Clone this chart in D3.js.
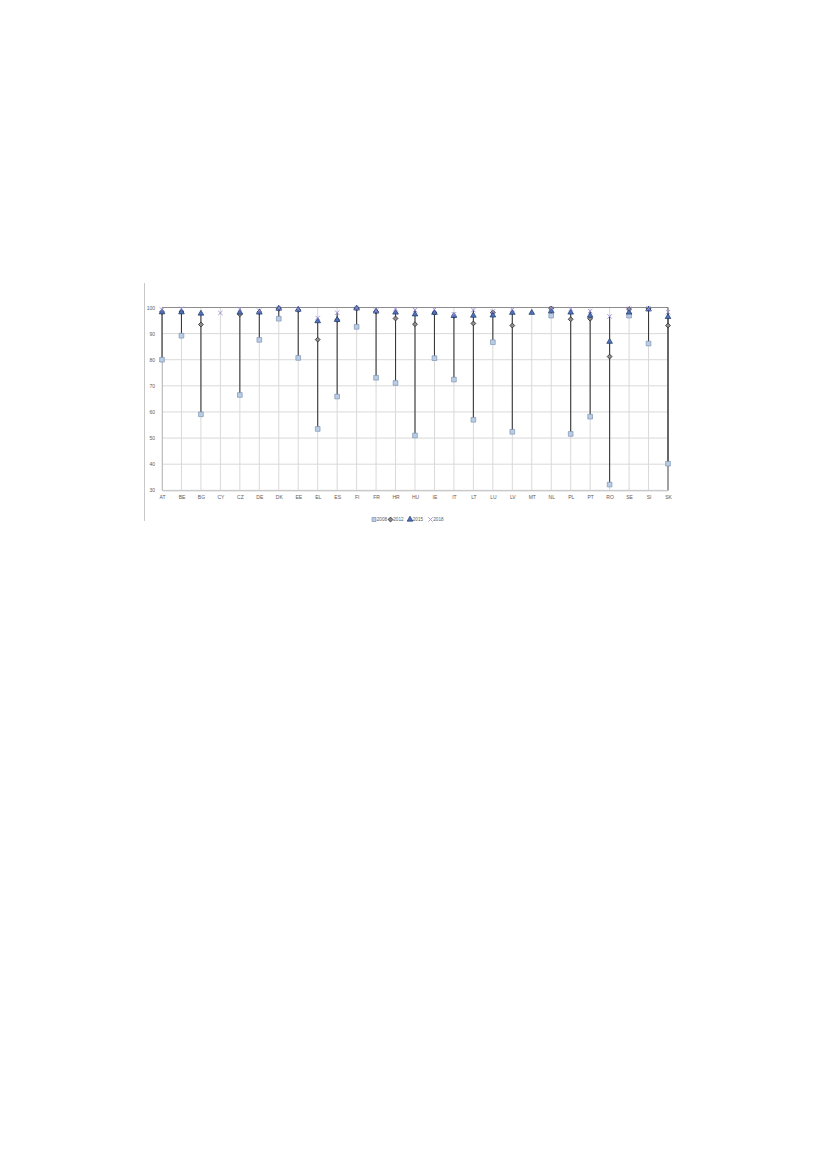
<!DOCTYPE html>
<html>
<head>
<meta charset="utf-8">
<script src="https://cdn.jsdelivr.net/npm/d3@7"></script>
<style>
  body { margin: 0; background: #fff; }
  svg { display: block; }
  text { -webkit-font-smoothing: antialiased; }
</style>
</head>
<body>
<svg id="chart"></svg>
<script>
const countries = ["AT","BE","BG","CY","CZ","DE","DK","EE","EL","ES","FI","FR","HR","HU","IE","IT","LT","LU","LV","MT","NL","PL","PT","RO","SE","SI","SK"];

const v2008 = [80, 89.2, 59.1, null, 66.5, 87.6, 95.7, 80.7, 53.5, 65.9, 92.6, 73.1, 71.1, 51, 80.6, 72.4, 57, 86.7, 52.4, null, 96.9, 51.6, 58.2, 32.2, 96.9, 86.2, 40.2];
const v2012 = [98.3, 98.3, 93.5, null, 97.4, 98.2, 99.5, 99, 87.7, 95.2, 99.6, 98.4, 95.8, 93.6, 97.9, 96.7, 93.9, 98.1, 93.1, null, 99.6, 95.5, 95.7, 81.2, 99.4, 99.5, 93.1];
const v2015 = [98.2, 98.2, 97.7, null, 98.1, 98.1, 99.6, 99.2, 94.8, 95.3, 99.7, 98.5, 98.1, 97.4, 98, 96.8, 96.9, 97, 98, 98, 98.6, 98.1, 96.9, 86.9, 98.1, 99.3, 96.4];
const v2018 = [99.2, 99.5, null, 97.9, 99.3, 98.8, 99.8, 99.4, 96, 98, 99.8, 98.8, 99.4, 99, 99.2, 97.4, 99, 98.5, 99.2, null, 99.7, 99.4, 98.6, 96.6, 99.5, 99.6, 98.2];

const yTicks = [30, 40, 50, 60, 70, 80, 90, 100];
const seriesNames = ["2008", "2012", "2015", "2018"];

const width = 827, height = 1169;
const svg = d3.select("#chart").attr("width", width).attr("height", height);
svg.append("rect").attr("width", width).attr("height", height).attr("fill", "#fff");

const x = d3.scalePoint().domain(countries).range([162, 668]);
const y = d3.scaleLinear().domain([30, 100]).range([490.3, 307.5]);

const font = "'Liberation Sans', Arial, sans-serif";
const textColor = "#5a5a5a";
const fontSize = 5;

// chart frame (only left edge visible)
svg.append("line")
    .attr("x1", 144.5).attr("x2", 144.5)
    .attr("y1", 283).attr("y2", 521)
    .attr("stroke", "#c8c8c8").attr("stroke-width", 1);

// horizontal gridlines
svg.append("g")
  .selectAll("line")
  .data(yTicks.filter(d => d < 100))
  .join("line")
    .attr("x1", x.range()[0]).attr("x2", x.range()[1])
    .attr("y1", d => y(d)).attr("y2", d => y(d))
    .attr("stroke", "#d9d9d9").attr("stroke-width", 1);

// vertical gridlines
svg.append("g")
  .selectAll("line")
  .data(countries)
  .join("line")
    .attr("x1", d => x(d)).attr("x2", d => x(d))
    .attr("y1", y(100)).attr("y2", y(30))
    .attr("stroke", "#d9d9d9").attr("stroke-width", 1);

// top and right border of plot
svg.append("line")
    .attr("x1", x.range()[0]).attr("x2", x.range()[1])
    .attr("y1", y(100)).attr("y2", y(100))
    .attr("stroke", "#8c8c8c").attr("stroke-width", 1);
svg.append("line")
    .attr("x1", x("SK")).attr("x2", x("SK"))
    .attr("y1", y(100)).attr("y2", y(30))
    .attr("stroke", "#555").attr("stroke-width", 1);

// axes
const yAxis = svg.append("g")
    .attr("transform", `translate(${x.range()[0]},0)`)
    .call(d3.axisLeft(y).tickValues(yTicks).tickSize(0).tickPadding(7))
    .call(g => g.select(".domain").attr("stroke", "#bfbfbf"));
yAxis.selectAll("text").attr("font-family", font).attr("font-size", fontSize).attr("fill", textColor);

const xAxis = svg.append("g")
    .attr("transform", `translate(0,${y(30)})`)
    .call(d3.axisBottom(x).tickSize(0).tickPadding(5))
    .call(g => g.select(".domain").attr("stroke", "#bfbfbf"));
xAxis.selectAll("text").attr("font-family", font).attr("font-size", fontSize).attr("fill", textColor);

// high-low lines
const rows = countries.map((c, i) => {
  const vals = [v2008[i], v2012[i], v2015[i], v2018[i]].filter(v => v != null);
  return { c, lo: d3.min(vals), hi: d3.max(vals), n: vals.length };
}).filter(d => d.n > 1);

svg.append("g")
  .selectAll("line")
  .data(rows)
  .join("line")
    .attr("x1", d => x(d.c)).attr("x2", d => x(d.c))
    .attr("y1", d => y(d.hi)).attr("y2", d => y(d.lo))
    .attr("stroke", "#3a3a3a").attr("stroke-width", 1.1);

// markers
const styles = [
  { vals: v2008, type: d3.symbolSquare, size: 22, fill: "#b9cde5", stroke: "#7f93b3", sw: 0.7 },
  { vals: v2012, type: d3.symbolDiamond2, size: 15, fill: "#8f8f8f", stroke: "#2a2a2a", sw: 0.8 },
  { vals: v2015, type: d3.symbolTriangle, size: 14, fill: "#4f72c0", stroke: "#1f3864", sw: 0.7 },
  { vals: v2018, type: d3.symbolX, size: 14, fill: "none", stroke: "#9a8fd6", sw: 0.9 }
];

styles.forEach(s => {
  const pts = countries.map((c, i) => ({ c, v: s.vals[i] })).filter(d => d.v != null);
  svg.append("g")
    .selectAll("path")
    .data(pts)
    .join("path")
      .attr("transform", d => `translate(${x(d.c)},${y(d.v)})`)
      .attr("d", d3.symbol().type(s.type).size(s.size))
      .attr("fill", s.fill)
      .attr("stroke", s.stroke)
      .attr("stroke-width", s.sw);
});

// legend
const legendX = [374, 390.5, 410, 430.5];
const legend = svg.append("g").attr("transform", "translate(0,519.5)");
styles.forEach((s, i) => {
  legend.append("path")
    .attr("transform", `translate(${legendX[i]},0)`)
    .attr("d", d3.symbol().type(s.type).size(s.type === d3.symbolSquare ? 16 : s.size))
    .attr("fill", s.fill)
    .attr("stroke", s.stroke)
    .attr("stroke-width", s.sw);
  legend.append("text")
    .attr("x", legendX[i] + 2.8)
    .attr("y", 1.8)
    .attr("font-family", font)
    .attr("font-size", 4.6)
    .attr("fill", textColor)
    .text(seriesNames[i]);
});
</script>
</body>
</html>
